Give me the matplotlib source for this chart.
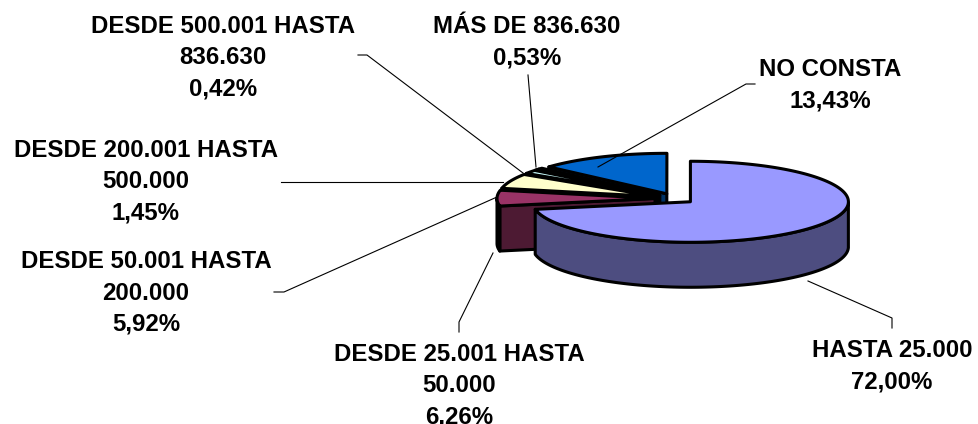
import numpy as np
import matplotlib
matplotlib.use("Agg")
import matplotlib.pyplot as plt
from matplotlib.patches import Polygon

plt.rcParams['font.family'] = ['Liberation Sans', 'DejaVu Sans']

# ================================
# Data
# ================================

categories = ["HASTA 25.000", "DESDE 25.001 HASTA\n50.000",
              "DESDE 50.001 HASTA\n200.000", "DESDE 200.001 HASTA\n500.000",
              "DESDE 500.001 HASTA\n836.630", "MÁS DE 836.630", "NO CONSTA"]
values = [72.00, 6.26, 5.92, 1.45, 0.42, 0.53, 13.43]
value_labels = ["72,00%", "6,26%", "5,92%", "1,45%", "0,42%", "0,53%", "13,43%"]
colors = ["#9999FF", "#993366", "#FFFFCC", "#CCFFFF", "#660066", "#FF8080", "#0066CC"]
side_colors = ["#4D4D80", "#4D1A33", "#808066", "#668080", "#330033", "#804040", "#003366"]

# label centres and leader lines, in image pixels
label_pos = [(892, 366), (459, 386), (146, 293), (146, 182), (223, 58), (527, 42), (830, 85)]
leaders = [
    [(892, 328), (892, 318), (808, 281)],
    [(459, 332), (459, 322), (493, 253)],
    [(274, 292), (284, 292), (497, 197)],
    [(281, 182), (503, 182)],
    [(358, 55), (367, 55), (523, 173)],
    [(528, 75), (536, 167)],
    [(755, 84), (746, 84), (598, 167)],
]

# ================================
# Fake 3D pie geometry
# ================================

cx, cy = 675, 198.5
rx, ry = 158, 40.5
depth = 45
explode = 20

fig = plt.figure(figsize=(9.79, 4.24), dpi=100)
ax = fig.add_axes([0, 0, 1, 1])
ax.set_xlim(0, 979)
ax.set_ylim(424, 0)
ax.axis("off")

starts = 90 - np.cumsum([0] + values[:-1]) * 3.6
ends = starts - np.array(values) * 3.6


def draw_slice(i):
    t2, t1 = starts[i], ends[i]
    mid = np.radians((t1 + t2) / 2)
    x0 = cx + explode * np.cos(mid)
    y0 = cy - explode * ry / rx * np.sin(mid)

    th = np.radians(np.linspace(t1, t2, 200))
    ex = x0 + rx * np.cos(th)
    ey = y0 - ry * np.sin(th)
    style = dict(edgecolor="black", linewidth=2.2, joinstyle="round")

    # cut face on the counter-clockwise side, only the left half faces us
    a = np.radians(t2 % 360)
    if 90 < np.degrees(a) < 270:
        px, py = x0 + rx * np.cos(a), y0 - ry * np.sin(a)
        ax.add_patch(Polygon([(x0, y0), (px, py), (px, py + depth), (x0, y0 + depth)],
                             facecolor=side_colors[i], **style))

    # outer wall, lower half of the ellipse only
    vis = np.sin(th) <= 0
    if vis.sum() > 1:
        wx, wy = ex[vis], ey[vis]
        pts = list(zip(wx, wy)) + list(zip(wx[::-1], wy[::-1] + depth))
        ax.add_patch(Polygon(pts, facecolor=side_colors[i], **style))

    # top
    ax.add_patch(Polygon([(x0, y0)] + list(zip(ex, ey)), facecolor=colors[i], **style))


for i in range(len(values) - 1, -1, -1):
    draw_slice(i)

# ================================
# Labels
# ================================

for line in leaders:
    xs, ys = zip(*line)
    ax.plot(xs, ys, color="black", lw=0.8)

for name, val, pos in zip(categories, value_labels, label_pos):
    ax.text(pos[0], pos[1], name + "\n" + val, ha="center", va="center",
            fontsize=17.3, fontweight="bold", linespacing=1.47, color="black")

fig.savefig("out.png", dpi=100)
